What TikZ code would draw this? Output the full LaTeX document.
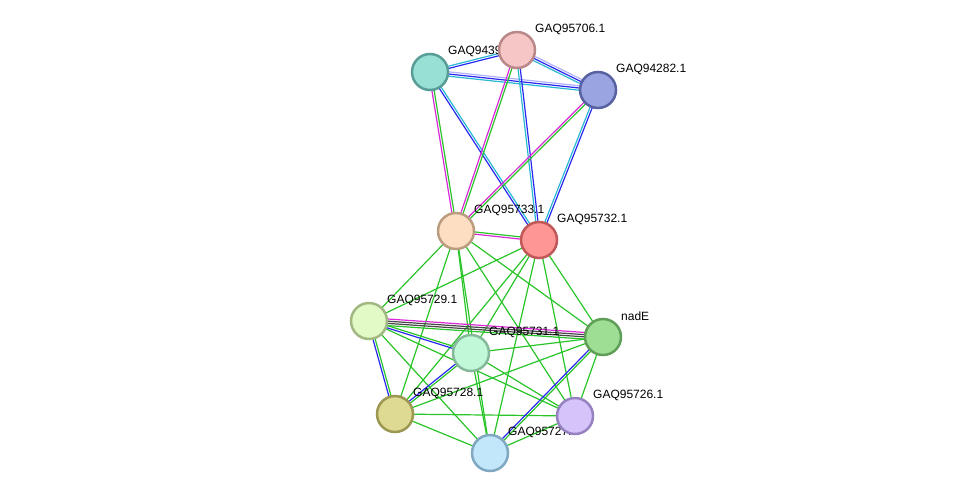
\documentclass[tikz,border=0pt]{standalone}
\usepackage{fontspec}
\setmainfont{Liberation Sans}
\usetikzlibrary{calc}
\definecolor{tealFill}{RGB}{152,223,214}
\definecolor{tealLine}{RGB}{88,158,150}
\definecolor{pinkFill}{RGB}{246,198,198}
\definecolor{pinkLine}{RGB}{186,136,136}
\definecolor{slateFill}{RGB}{154,164,224}
\definecolor{slateLine}{RGB}{88,98,162}
\definecolor{peachFill}{RGB}{253,222,194}
\definecolor{peachLine}{RGB}{186,156,126}
\definecolor{redFill}{RGB}{255,150,150}
\definecolor{redLine}{RGB}{192,88,88}
\definecolor{limeFill}{RGB}{226,250,198}
\definecolor{limeLine}{RGB}{162,184,130}
\definecolor{mintFill}{RGB}{192,248,216}
\definecolor{mintLine}{RGB}{134,184,156}
\definecolor{leafFill}{RGB}{158,222,148}
\definecolor{leafLine}{RGB}{94,158,88}
\definecolor{oliveFill}{RGB}{222,218,148}
\definecolor{oliveLine}{RGB}{156,152,82}
\definecolor{lilacFill}{RGB}{212,196,250}
\definecolor{lilacLine}{RGB}{150,130,192}
\definecolor{skyFill}{RGB}{194,230,250}
\definecolor{skyLine}{RGB}{128,168,192}
\definecolor{evGreen}{RGB}{40,196,40}
\definecolor{evBlue}{RGB}{40,40,240}
\definecolor{evCyan}{RGB}{40,184,212}
\definecolor{evMagenta}{RGB}{218,40,218}
\definecolor{evLav}{RGB}{176,176,250}
\definecolor{evBlack}{RGB}{70,70,70}
\pgfdeclarelayer{links}
\pgfdeclarelayer{names}
\pgfsetlayers{links,names,main}
% parallel lines between two nodes: from, to, count, colours
\newcommand{\lnk}[4]{%
  \foreach \c [count=\i] in {#4}{%
    \pgfmathsetmacro{\off}{(\i-(#3+1)/2)*2.2}%
    \draw[edge,\c] ($(#1)!\off pt!90:(#2)$) -- ($(#2)!\off pt!-90:(#1)$);
  }}

\begin{document}
\begin{tikzpicture}[x=1pt, y=-1pt,
  prot/.style={circle, line width=2.5pt, minimum size=36pt, inner sep=0pt},
  lbl/.style={anchor=west, inner sep=0pt, font=\fontsize{12}{14}\selectfont},
  edge/.style={line width=1.2pt}
]
\useasboundingbox (0,0) rectangle (976,499);
% proteins
\foreach \n/\x/\y/\f in {t/430/72/teal, p/517/50/pink, u/598/90/slate,
    a/456/231/peach, b/539/240/red, c/369/321/lime, d/471/353/mint,
    e/603/337/leaf, f/395/414/olive, g/575/416/lilac, h/490/453/sky}
  \node[prot, fill=\f Fill, draw=\f Line] (\n) at (\x,\y) {};
% labels
\begin{pgfonlayer}{names}
\foreach \n/\t in {t/GAQ94392.1, p/GAQ95706.1, u/GAQ94282.1, a/GAQ95733.1,
    b/GAQ95732.1, c/GAQ95729.1, d/GAQ95731.1, e/nadE, f/GAQ95728.1,
    g/GAQ95726.1, h/GAQ95727.1}
  \node[lbl] (\n L) at ([shift={(18,-20.5)}]\n.center) {\t};
\end{pgfonlayer}
% interactions
\begin{pgfonlayer}{links}
\lnk{t}{p}{2}{evBlue,evCyan}
\lnk{t}{u}{3}{evCyan,evBlue,evLav}
\lnk{p}{u}{3}{evCyan,evBlue,evLav}
\lnk{t}{a}{2}{evMagenta,evGreen}
\lnk{t}{b}{2}{evBlue,evCyan}
\lnk{p}{a}{2}{evMagenta,evGreen}
\lnk{p}{b}{2}{evCyan,evBlue}
\lnk{u}{a}{2}{evMagenta,evGreen}
\lnk{u}{b}{2}{evCyan,evBlue}
\lnk{a}{b}{2}{evMagenta,evGreen}
\foreach \s/\d in {a/c, a/f, a/d, a/h, a/e, a/g, b/c, b/d, b/f, b/h, b/e, b/g,
    c/g, c/h, d/e, d/g, d/h, e/f, e/g, f/g, f/h, g/h}
  \lnk{\s}{\d}{1}{evGreen};
\lnk{c}{d}{2}{evBlue,evGreen}
\lnk{c}{e}{4}{evGreen,evBlack,evBlack,evMagenta}
\lnk{c}{f}{2}{evBlue,evGreen}
\lnk{d}{f}{2}{evBlue,evGreen}
\lnk{e}{h}{2}{evBlue,evGreen}
\end{pgfonlayer}
\end{tikzpicture}
\end{document}
